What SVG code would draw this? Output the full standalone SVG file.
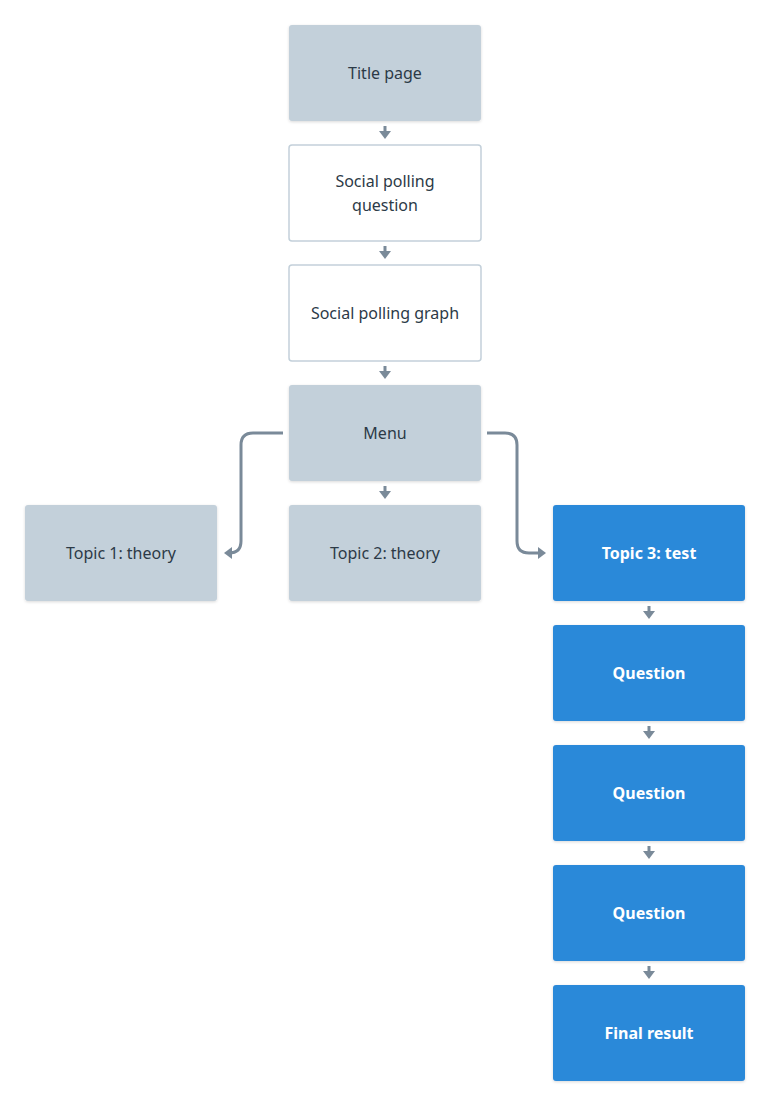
<svg xmlns="http://www.w3.org/2000/svg" width="770" height="1106" viewBox="0 0 770 1106">
<defs>
<filter id="sh" x="-10%" y="-10%" width="120%" height="130%"><feDropShadow dx="0" dy="1" stdDeviation="1.5" flood-color="#000" flood-opacity="0.15"/></filter>
<marker id="ah" viewBox="0 0 8 12" refX="3" refY="6" markerWidth="8" markerHeight="12" markerUnits="userSpaceOnUse" orient="auto"><path d="M0,0 L8,6 L0,12 z" fill="#7a8a99"/></marker>
</defs>
<style>
.g rect{fill:#c3d0da;filter:url(#sh)}
.w rect{fill:#fff;stroke:#c3d0da;stroke-width:1.5}
.b rect{fill:#2b89d9;filter:url(#sh)}
text{font-family:"Noto Sans",Lato,sans-serif;font-size:16px;font-weight:normal;text-anchor:middle}
.g text,.w text{fill:#2c3a47}
.b text{fill:#fff;font-weight:bold}
#conn path{fill:none;stroke:#7a8a99;stroke-width:3;marker-end:url(#ah)}
</style>
<rect width="770" height="1106" fill="#fff"/>
<g id="conn">
<path d="M385,126 V134"/>
<path d="M385,246 V254"/>
<path d="M385,366 V374"/>
<path d="M385,486 V494"/>
<path d="M649,606 V614"/>
<path d="M649,726 V734"/>
<path d="M649,846 V854"/>
<path d="M649,966 V974"/>
<path d="M283,433 H253 Q241,433 241,445 V541 Q241,553 229,553"/>
<path d="M487,433 H505 Q517,433 517,445 V541 Q517,553 529,553 H541"/>
</g>
<g id="title" class="g"><rect x="289" y="25" width="192" height="96" rx="3"/><text x="385" y="79">Title page</text></g>
<g id="spq" class="w"><rect x="289" y="145" width="192" height="96" rx="3"/><text x="385" y="187">Social polling</text><text x="385" y="211">question</text></g>
<g id="spg" class="w"><rect x="289" y="265" width="192" height="96" rx="3"/><text x="385" y="319">Social polling graph</text></g>
<g id="menu" class="g"><rect x="289" y="385" width="192" height="96" rx="3"/><text x="385" y="439">Menu</text></g>
<g id="topic1" class="g"><rect x="25" y="505" width="192" height="96" rx="3"/><text x="121" y="559">Topic 1: theory</text></g>
<g id="topic2" class="g"><rect x="289" y="505" width="192" height="96" rx="3"/><text x="385" y="559">Topic 2: theory</text></g>
<g id="topic3" class="b"><rect x="553" y="505" width="192" height="96" rx="3"/><text x="649" y="559">Topic 3: test</text></g>
<g id="q1" class="b"><rect x="553" y="625" width="192" height="96" rx="3"/><text x="649" y="679">Question</text></g>
<g id="q2" class="b"><rect x="553" y="745" width="192" height="96" rx="3"/><text x="649" y="799">Question</text></g>
<g id="q3" class="b"><rect x="553" y="865" width="192" height="96" rx="3"/><text x="649" y="919">Question</text></g>
<g id="final" class="b"><rect x="553" y="985" width="192" height="96" rx="3"/><text x="649" y="1039">Final result</text></g>
</svg>
